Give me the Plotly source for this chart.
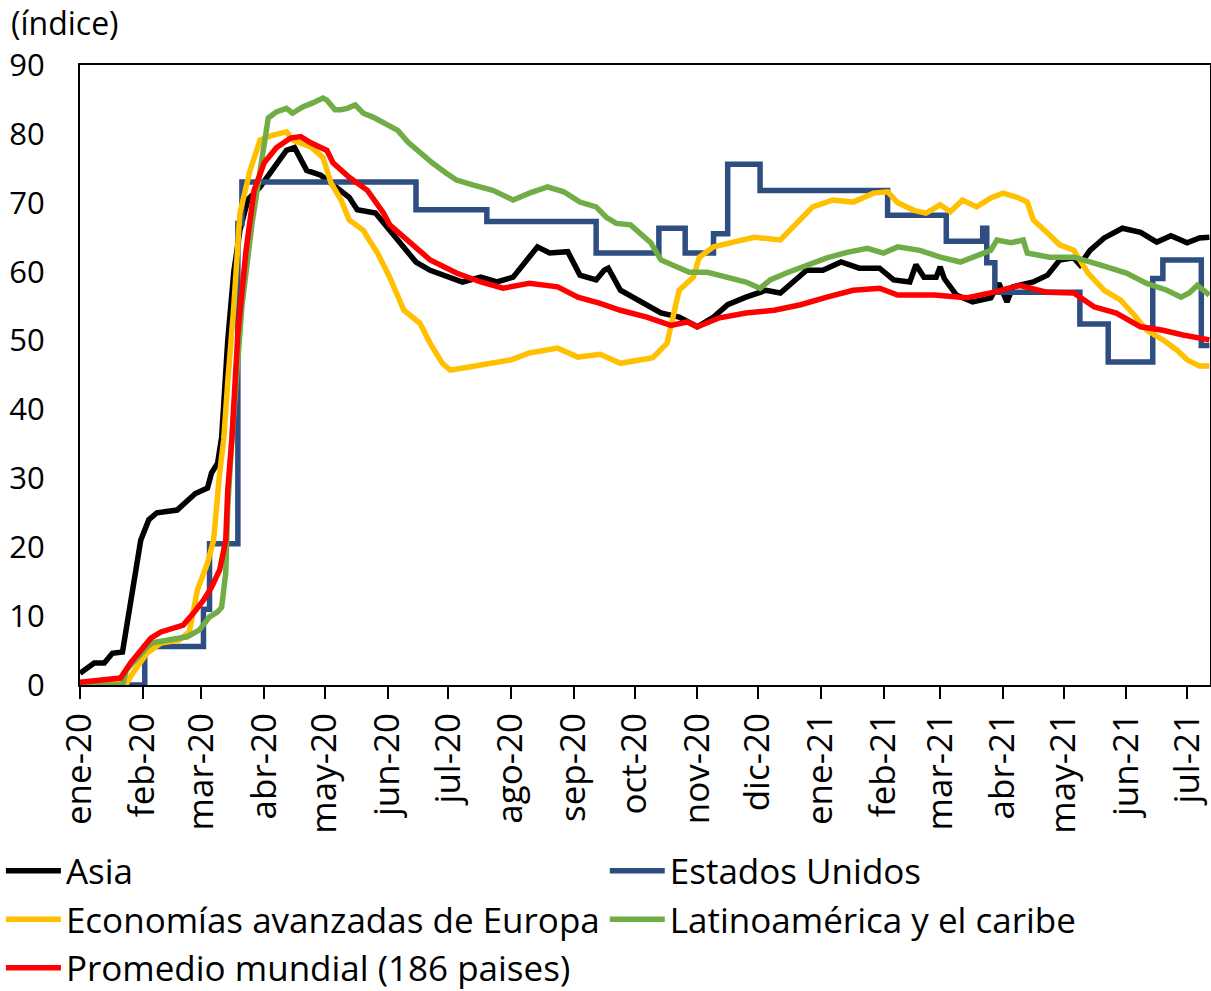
import pandas as pd
import plotly.graph_objects as go

# ---- data (day offsets counted from 1 Jan 2020, index values) ----
START = "2020-01-01"

asia_day = [0, 7, 12, 16, 21, 23, 25, 28, 30, 34, 38, 48, 53, 57, 63, 65, 68, 70, 73, 76, 79, 83,
            89, 94, 99, 102, 106, 109, 112, 119, 124, 128, 133, 137, 146, 153, 161, 166, 173, 183,
            189, 198, 206, 214, 219, 226, 232, 241, 247, 255, 259, 261, 267, 277, 287, 296, 305,
            313, 320, 329, 339, 346, 352, 359, 367, 376, 385, 395, 402, 410, 413, 417, 423, 425,
            427, 433, 441, 450, 454, 458, 461, 471, 478, 484, 491, 494, 499, 506, 515, 524, 532,
            539, 547, 553, 558]
asia_val = [1.7, 3.2, 3.2, 4.6, 4.8, 8.4, 12.8, 17.1, 21.0, 24.0, 25.0, 25.4, 26.8, 27.8, 28.6,
            30.8, 32.2, 36.0, 50.0, 60.0, 66.0, 70.5, 72.3, 74.3, 76.5, 77.6, 78.0, 76.2, 74.7,
            74.0, 72.9, 71.8, 70.8, 69.0, 68.5, 66.0, 63.1, 61.4, 60.2, 59.2, 58.5, 59.2, 58.5,
            59.2, 61.0, 63.6, 62.7, 62.9, 59.5, 58.8, 60.2, 60.5, 57.3, 55.6, 54.0, 53.4, 52.0,
            53.4, 55.2, 56.3, 57.3, 56.9, 58.5, 60.2, 60.2, 61.4, 60.5, 60.5, 58.8, 58.5, 61.0,
            59.2, 59.2, 60.7, 59.0, 56.6, 55.6, 56.2, 58.3, 55.6, 57.8, 58.5, 59.5, 61.7, 62.0,
            61.0, 63.1, 64.9, 66.3, 65.7, 64.3, 65.2, 64.2, 64.9, 65.0]

usa_day = [0, 32, 61, 64, 78, 80, 166, 201, 255, 286, 299, 313, 320, 336, 399, 428, 446, 448,
           452, 494, 508, 530, 535, 554, 558]
usa_val = [0.0, 5.6, 11.0, 20.5, 67.0, 73.0, 69.0, 67.3, 62.7, 66.3, 62.7, 65.5, 75.6, 71.8,
           68.2, 64.4, 66.3, 61.3, 57.0, 52.4, 46.9, 59.0, 61.7, 49.3, 49.3]

europa_day = [0, 23, 26, 33, 40, 49, 54, 58, 63, 66, 69, 71, 73, 76, 79, 84, 89, 95, 102, 105,
              114, 120, 124, 129, 133, 140, 142, 147, 153, 160, 168, 173, 179, 183, 193, 203,
              213, 222, 236, 246, 257, 267, 277, 283, 290, 293, 296, 303, 306, 313, 323, 333,
              346, 352, 362, 372, 382, 392, 399, 404, 412, 418, 425, 430, 436, 443, 450, 456,
              463, 468, 471, 478, 484, 491, 498, 506, 514, 520, 527, 535, 542, 547, 553, 558]
europa_val = [0.2, 0.2, 1.7, 4.6, 6.1, 6.5, 7.7, 13.8, 17.7, 21.0, 30.8, 35.6, 44.0, 55.0, 68.5,
              74.7, 79.1, 79.8, 80.3, 79.1, 78.1, 76.6, 72.9, 70.4, 67.5, 66.0, 65.0, 62.7, 59.2,
              54.4, 52.5, 49.6, 46.7, 45.7, 46.2, 46.7, 47.2, 48.2, 48.9, 47.6, 48.0, 46.7, 47.2,
              47.5, 49.6, 53.4, 57.3, 59.2, 62.1, 63.6, 64.3, 65.0, 64.6, 66.3, 69.4, 70.4, 70.1,
              71.4, 71.6, 70.0, 68.9, 68.5, 69.7, 68.7, 70.4, 69.4, 70.7, 71.4, 70.8, 70.1, 67.5,
              65.6, 63.9, 63.1, 59.8, 57.3, 55.9, 54.0, 51.5, 50.1, 48.6, 47.2, 46.3, 46.3]

latam_day = [0, 21, 23, 30, 35, 43, 53, 59, 64, 68, 70, 72, 73, 75, 80, 85, 89, 91, 93, 97, 102,
             105, 110, 115, 120, 122, 126, 129, 132, 136, 140, 145, 150, 157, 162, 168, 174, 181,
             186, 194, 204, 214, 222, 231, 239, 247, 255, 260, 265, 272, 277, 282, 287, 293, 301,
             310, 320, 329, 336, 341, 349, 359, 369, 379, 389, 397, 404, 415, 425, 435, 443, 450,
             453, 460, 466, 468, 479, 491, 504, 517, 527, 537, 544, 548, 552, 558]
latam_val = [0.0, 0.0, 2.2, 4.6, 6.1, 6.5, 7.0, 8.0, 9.9, 10.6, 11.3, 16.3, 25.8, 35.6, 55.0,
             67.0, 75.0, 79.1, 82.3, 83.2, 83.7, 83.0, 83.9, 84.5, 85.2, 84.9, 83.5, 83.5, 83.7,
             84.2, 83.0, 82.4, 81.6, 80.5, 78.8, 77.2, 75.8, 74.3, 73.3, 72.6, 71.8, 70.4, 71.4,
             72.3, 71.6, 70.1, 69.4, 67.9, 67.0, 66.8, 65.6, 64.2, 61.7, 61.0, 59.9, 59.9, 59.2,
             58.5, 57.6, 58.8, 59.8, 61.0, 62.0, 62.8, 63.4, 62.7, 63.6, 63.1, 62.1, 61.4, 62.4,
             63.1, 64.6, 64.2, 64.6, 62.7, 62.1, 62.1, 61.0, 59.8, 58.3, 57.3, 56.3, 56.9, 58.0,
             56.6]

mundo_day = [0, 17, 20, 25, 30, 35, 40, 48, 51, 56, 61, 65, 69, 72, 73, 75, 78, 82, 86, 91, 97,
             104, 109, 114, 122, 125, 133, 142, 145, 150, 153, 165, 173, 186, 198, 209, 222, 236,
             246, 257, 267, 280, 292, 300, 305, 316, 329, 343, 356, 369, 382, 395, 404, 422, 438,
             451, 464, 478, 491, 501, 512, 524, 535, 545, 558]
mundo_val = [0.4, 0.9, 1.0, 3.2, 5.1, 6.8, 7.7, 8.3, 8.7, 10.4, 12.3, 14.2, 16.7, 21.0, 28.3,
             35.6, 51.0, 63.0, 71.8, 75.8, 78.0, 79.4, 79.6, 78.7, 77.6, 75.8, 73.7, 71.8, 70.6,
             68.5, 66.8, 63.6, 61.7, 59.8, 58.5, 57.6, 58.3, 57.8, 56.3, 55.4, 54.4, 53.4, 52.2,
             52.7, 52.0, 53.3, 54.0, 54.4, 55.2, 56.3, 57.3, 57.6, 56.6, 56.6, 56.2, 57.0, 58.0,
             57.0, 56.9, 54.9, 54.0, 52.0, 51.5, 50.8, 50.1]

series_names = ["Asia", "Estados Unidos", "Economías avanzadas de Europa",
                "Latinoamérica y el caribe", "Promedio mundial (186 paises)"]
series_colors = ["#000000", "#2E4D80", "#FFC000", "#70AD47", "#FF0000"]

month_labels = ["ene-20", "feb-20", "mar-20", "abr-20", "may-20", "jun-20", "jul-20", "ago-20",
                "sep-20", "oct-20", "nov-20", "dic-20", "ene-21", "feb-21", "mar-21", "abr-21",
                "may-21", "jun-21", "jul-21"]
y_unit = "(índice)"


def to_dates(days):
    return pd.Timestamp(START) + pd.to_timedelta(days, unit="D")


series = [(asia_day, asia_val, "linear"), (usa_day, usa_val, "hv"),
          (europa_day, europa_val, "linear"), (latam_day, latam_val, "linear"),
          (mundo_day, mundo_val, "linear")]

FONT = "Open Sans, Liberation Sans, sans-serif"

fig = go.Figure()
for (d, v, shape), name, col in zip(series, series_names, series_colors):
    fig.add_trace(go.Scatter(x=to_dates(d), y=v, mode="lines", name=name,
                             line=dict(color=col, width=5.5, shape=shape)))

month_ticks = pd.date_range("2020-01-01", periods=len(month_labels), freq="MS")

fig.update_layout(
    width=1211, height=991,
    margin=dict(l=80, r=1, t=65, b=306, autoexpand=False),
    paper_bgcolor="white", plot_bgcolor="white",
    font=dict(family=FONT, color="black"),
    showlegend=True,
    legend=dict(orientation="h", xref="paper", yref="paper", x=-0.07, y=-0.2523,
                xanchor="left", yanchor="top", itemwidth=55,
                font=dict(family=FONT, size=35, color="black"),
                bgcolor="rgba(0,0,0,0)", borderwidth=0),
    xaxis=dict(type="date", range=["2020-01-01", "2021-07-12 07:00"],
               tickmode="array", tickvals=month_ticks, ticktext=month_labels,
               tickangle=-90, ticks="outside", ticklen=12, tickwidth=2, tickcolor="black",
               showline=True, linecolor="black", linewidth=2, mirror=True,
               showgrid=False, zeroline=False, ticklabelstandoff=0, automargin=False,
               tickfont=dict(family=FONT, size=35, color="black")),
    yaxis=dict(range=[0, 90], tickmode="linear", tick0=0, dtick=10,
               ticks="", showline=True, linecolor="black", linewidth=2, mirror=True,
               showgrid=False, zeroline=False, ticklabelstandoff=27, automargin=False,
               tickfont=dict(family=FONT, size=31, color="black")),
)

fig.add_annotation(text=y_unit, xref="paper", yref="paper", x=-0.063, y=1.069,
                   xanchor="left", yanchor="middle", showarrow=False,
                   font=dict(family=FONT, size=32, color="black"))

fig.write_html("out.html", config={"displayModeBar": False},
               post_script="document.body.style.margin='0';"
                           "document.body.style.overflow='hidden';")
